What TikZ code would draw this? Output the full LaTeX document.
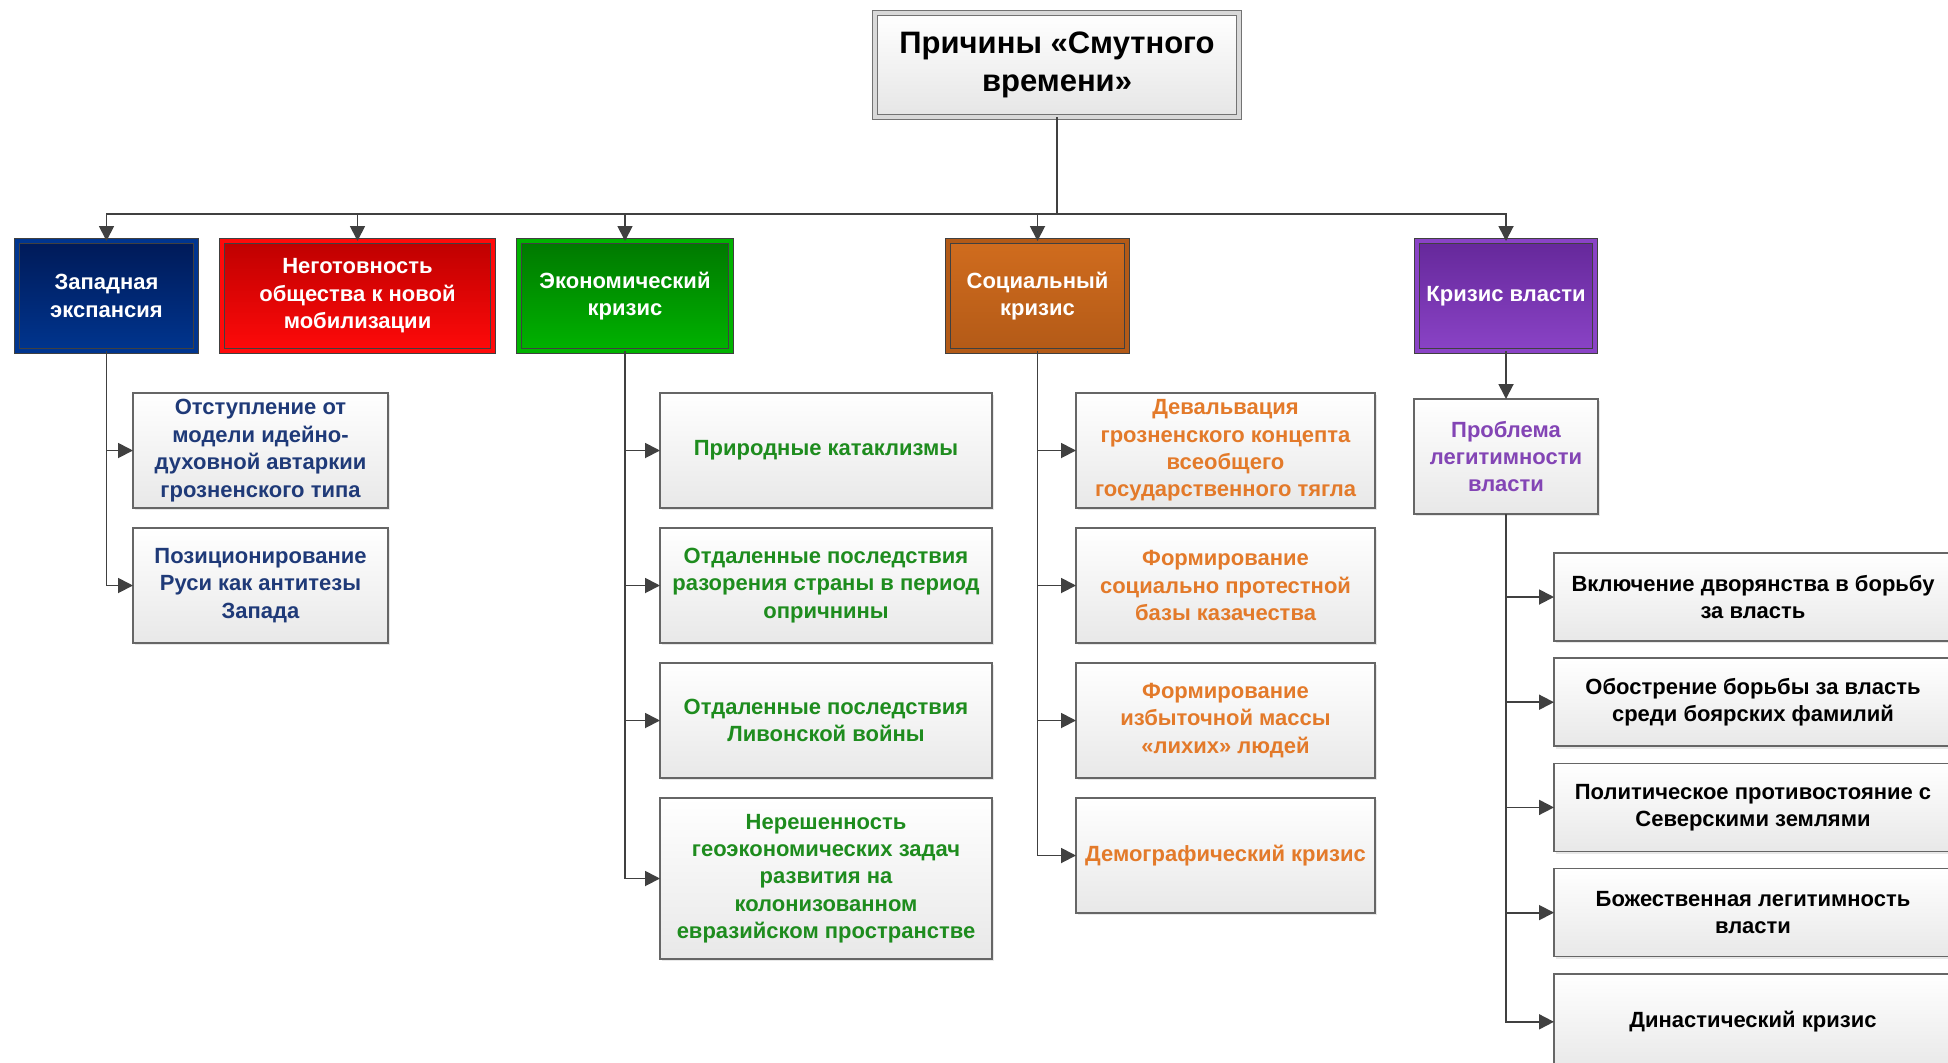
\documentclass[tikz,border=0pt]{standalone}
\usepackage{fontspec}
\setmainfont{Liberation Sans}
\usepackage{xcolor}
\usetikzlibrary{positioning, shadows, arrows.meta}

\definecolor{westA}{HTML}{001A58}
\definecolor{westB}{HTML}{00358F}
\definecolor{mobA}{HTML}{BE0000}
\definecolor{mobB}{HTML}{FF0A0A}
\definecolor{econA}{HTML}{007800}
\definecolor{econB}{HTML}{00B300}
\definecolor{socA}{HTML}{D06C1E}
\definecolor{socB}{HTML}{B35A17}
\definecolor{powA}{HTML}{65289A}
\definecolor{powB}{HTML}{8A43C6}
\definecolor{westtxt}{HTML}{1F3A78}
\definecolor{econtxt}{HTML}{1E8C1E}
\definecolor{soctxt}{HTML}{E37A2A}
\definecolor{powtxt}{HTML}{8345B5}
\definecolor{linegray}{HTML}{404040}

\tikzset{
    box/.style={rectangle, align=center, outer sep=0pt, inner sep=2pt,
        font=\bfseries\fontsize{11}{13.7}\selectfont},
    titlebox/.style={box, draw=black!55, line width=0.5pt, double=black!15, double distance=2pt,
        top color=white, bottom color=black!10, font=\bfseries\fontsize{15.5}{19.3}\selectfont,
        drop shadow={shadow xshift=1.2pt, shadow yshift=-1.2pt, opacity=0.2}},
    headbox/.style 2 args={box, draw=linegray, line width=0.5pt, double=#2, double distance=2pt,
        top color=#1, bottom color=#2, text=white, minimum height=55pt,
        drop shadow={shadow xshift=1.2pt, shadow yshift=-1.2pt, opacity=0.25}},
    itembox/.style={box, draw=black!60, line width=0.8pt, top color=white, bottom color=black!9,
        minimum height=57.5pt,
        drop shadow={shadow xshift=1.2pt, shadow yshift=-1.2pt, opacity=0.18}},
    link/.style={draw=linegray, line width=0.9pt, ->},
}

\begin{document}
\begin{tikzpicture}[x=0.5pt, y=-0.5pt, >={Triangle[length=7.5pt, width=7.5pt]}]
    \clip (0,0) rectangle (1948,1062);

    \node[titlebox, minimum width=182pt, minimum height=52pt] (title) at (1057,65) {Причины «Смутного\\времени»};
    \coordinate (bus) at (1057,214);

    % first level
    \node[headbox={westA}{westB}, minimum width=89.5pt] (west) at (106.5,296) {Западная\\экспансия};
    \node[headbox={mobA}{mobB}, minimum width=135.5pt, right=13pt of west] (mob) {Неготовность\\общества к новой\\мобилизации};
    \node[headbox={econA}{econB}, minimum width=106pt, right=13pt of mob] (econ) {Экономический\\кризис};
    \node[headbox={socA}{socB}, minimum width=89.5pt, right=108.5pt of econ] (social) {Социальный\\кризис};
    \node[headbox={powA}{powB}, minimum width=89pt, right=145pt of social] (power) {Кризис власти};

    % western expansion
    \node[itembox, text=westtxt, minimum width=127.5pt, below right=21pt and 58pt of west.south west] (west1) {Отступление от\\модели идейно-\\духовной автаркии\\грозненского типа};
    \node[itembox, text=westtxt, minimum width=127.5pt, below=10pt of west1] (west2) {Позиционирование\\Руси как антитезы\\Запада};

    % economic crisis
    \node[itembox, text=econtxt, minimum width=166pt, below right=21pt and 70.5pt of econ.south west] (econ1) {Природные катаклизмы};
    \node[itembox, text=econtxt, minimum width=166pt, below=10pt of econ1] (econ2) {Отдаленные последствия\\разорения страны в период\\опричнины};
    \node[itembox, text=econtxt, minimum width=166pt, below=10pt of econ2] (econ3) {Отдаленные последствия\\Ливонской войны};
    \node[itembox, text=econtxt, minimum width=166pt, minimum height=80.5pt, below=10pt of econ3] (econ4) {Нерешенность\\геоэкономических задач\\развития на\\колонизованном\\евразийском пространстве};

    % social crisis
    \node[itembox, text=soctxt, minimum width=149.5pt, below right=21pt and 64pt of social.south west] (soc1) {Девальвация\\грозненского концепта\\всеобщего\\государственного тягла};
    \node[itembox, text=soctxt, minimum width=149.5pt, below=10pt of soc1] (soc2) {Формирование\\социально протестной\\базы казачества};
    \node[itembox, text=soctxt, minimum width=149.5pt, below=10pt of soc2] (soc3) {Формирование\\избыточной массы\\«лихих» людей};
    \node[itembox, text=soctxt, minimum width=149.5pt, below=10pt of soc3] (soc4) {Демографический кризис};

    % crisis of power
    \node[itembox, text=powtxt, minimum width=92pt, below=24pt of power] (legit) {Проблема\\легитимности\\власти};
    \node[itembox, minimum width=199pt, minimum height=44pt, below right=19.5pt and 70pt of legit.south west] (pow1) {Включение дворянства в борьбу\\за власть};
    \node[itembox, minimum width=199pt, minimum height=44pt, below=8.6pt of pow1] (pow2) {Обострение борьбы за власть\\среди боярских фамилий};
    \node[itembox, minimum width=199pt, minimum height=44pt, below=8.6pt of pow2] (pow3) {Политическое противостояние с\\Северскими землями};
    \node[itembox, minimum width=199pt, minimum height=44pt, below=8.6pt of pow3] (pow4) {Божественная легитимность\\власти};
    \node[itembox, minimum width=199pt, minimum height=48pt, below=8.6pt of pow4] (pow5) {Династический кризис};

    \draw[link] (title) -- (bus) -| (west);
    \draw[link] (title) -- (bus) -| (mob);
    \draw[link] (title) -- (bus) -| (econ);
    \draw[link] (title) -- (bus) -| (social);
    \draw[link] (title) -- (bus) -| (power);

    \draw[link] (west) |- (west1);
    \draw[link] (west) |- (west2);

    \draw[link] (econ) |- (econ1);
    \draw[link] (econ) |- (econ2);
    \draw[link] (econ) |- (econ3);
    \draw[link] (econ) |- (econ4);

    \draw[link] (social) |- (soc1);
    \draw[link] (social) |- (soc2);
    \draw[link] (social) |- (soc3);
    \draw[link] (social) |- (soc4);

    \draw[link] (power) -- (legit);
    \draw[link] (legit) |- (pow1);
    \draw[link] (legit) |- (pow2);
    \draw[link] (legit) |- (pow3);
    \draw[link] (legit) |- (pow4);
    \draw[link] (legit) |- (pow5);
\end{tikzpicture}
\end{document}
